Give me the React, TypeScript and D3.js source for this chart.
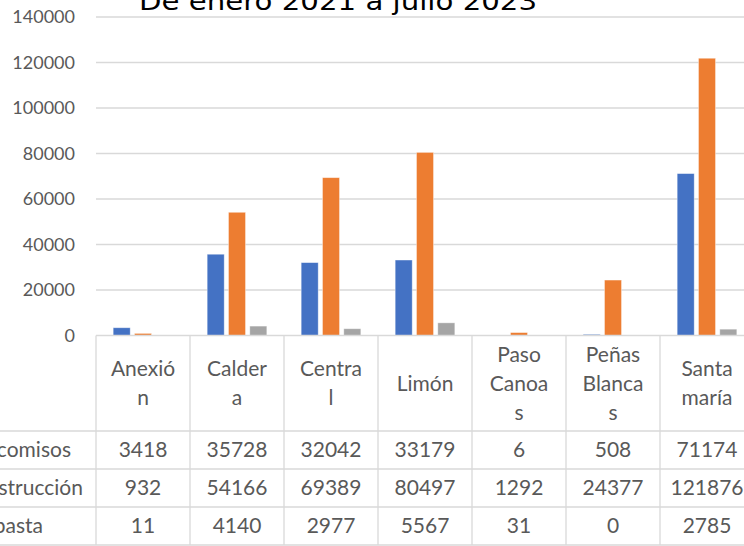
import React, { useEffect, useRef } from "react";
import * as d3 from "d3";

// datos
const categories = ["Anexión", "Caldera", "Central", "Limón", "Paso Canoas", "Peñas Blancas", "Santa maría"];
const categoryLines = [["Anexió", "n"], ["Calder", "a"], ["Centra", "l"], ["Limón"], ["Paso", "Canoa", "s"], ["Peñas", "Blanca", "s"], ["Santa", "maría"]];
const seriesNames = ["decomisos", "destrucción", "pasta"];
const decomisos = [3418, 35728, 32042, 33179, 6, 508, 71174];
const destruccion = [932, 54166, 69389, 80497, 1292, 24377, 121876];
const pasta = [11, 4140, 2977, 5567, 31, 0, 2785];
const yTicks = [0, 20000, 40000, 60000, 80000, 100000, 120000, 140000];
const title = "De enero 2021 a julio 2023";

const colors = ["#4472C4", "#ED7D31", "#A5A5A5"];

const App = () => {
    const svgRef = useRef<SVGSVGElement>(null);

    useEffect(() => {
        const width = 744;
        const height = 546;
        const series = [decomisos, destruccion, pasta];

        const svg = d3.select(svgRef.current);
        svg.selectAll("*").remove();

        const left = 96;
        const right = 754;
        const zeroY = 335.5;
        const headerBottom = 431;
        const rowH = 38;
        const grid = "#d9d9d9";
        const textColor = "#595959";
        const font = "Lato, 'Open Sans', sans-serif";

        const x = d3.scaleBand<string>().domain(categories).range([left, right]);
        const xs = d3
            .scaleBand<string>()
            .domain(seriesNames)
            .range([0, x.bandwidth()])
            .paddingInner(0.2)
            .paddingOuter(0.805);
        const y = d3.scaleLinear().domain([0, 140000]).range([zeroY, 17]);

        // líneas de cuadrícula
        svg.append("g")
            .selectAll("line")
            .data(yTicks.filter((t) => t > 0))
            .join("line")
            .attr("x1", left)
            .attr("x2", right)
            .attr("y1", (d) => y(d))
            .attr("y2", (d) => y(d))
            .attr("stroke", grid)
            .attr("stroke-width", 1.3);

        // etiquetas eje Y
        svg.append("g")
            .selectAll("text")
            .data(yTicks)
            .join("text")
            .attr("x", 75)
            .attr("y", (d) => y(d))
            .attr("dy", "0.35em")
            .attr("text-anchor", "end")
            .attr("fill", textColor)
            .style("font", `18px ${font}`)
            .text((d) => d);

        // barras
        series.forEach((vals, si) => {
            svg.append("g")
                .selectAll("rect")
                .data(vals)
                .join("rect")
                .attr("x", (d, i) => x(categories[i])! + xs(seriesNames[si])!)
                .attr("y", (d) => y(d))
                .attr("width", xs.bandwidth())
                .attr("height", (d) => zeroY - y(d))
                .attr("fill", colors[si])
                .attr("stroke", "#fff")
                .attr("stroke-opacity", 0.5)
                .attr("stroke-width", 0.8);
        });

        // tabla de datos
        const table = svg.append("g").attr("stroke", grid).attr("stroke-width", 1.3);
        table.append("line").attr("x1", left).attr("x2", right).attr("y1", zeroY).attr("y2", zeroY);
        d3.range(4).forEach((r) => {
            const yy = headerBottom + r * rowH;
            table.append("line").attr("x1", 0).attr("x2", right).attr("y1", yy).attr("y2", yy);
        });
        categories.concat([""]).forEach((c, i) => {
            const xx = left + i * x.bandwidth();
            table.append("line").attr("x1", xx).attr("x2", xx).attr("y1", zeroY).attr("y2", headerBottom + 3 * rowH);
        });

        const headerMid = (zeroY + headerBottom) / 2;
        const lineH = 29;
        categoryLines.forEach((lines, i) => {
            const cx = x(categories[i])! + x.bandwidth() / 2;
            const t = svg.append("text")
                .attr("text-anchor", "middle")
                .attr("fill", textColor)
                .style("font", `21px ${font}`);
            lines.forEach((ln, k) => {
                t.append("tspan")
                    .attr("x", cx)
                    .attr("y", headerMid + (k - (lines.length - 1) / 2) * lineH)
                    .attr("dy", "0.35em")
                    .text(ln);
            });
        });

        const labelEnds = [71, 83, 43];
        series.forEach((vals, si) => {
            const cy = headerBottom + si * rowH + rowH / 2;
            svg.append("text")
                .attr("x", labelEnds[si])
                .attr("y", cy)
                .attr("dy", "0.35em")
                .attr("text-anchor", "end")
                .attr("fill", textColor)
                .style("font", `21px ${font}`)
                .text(seriesNames[si]);
            svg.append("g")
                .selectAll("text")
                .data(vals)
                .join("text")
                .attr("x", (d, i) => x(categories[i])! + x.bandwidth() / 2)
                .attr("y", cy)
                .attr("dy", "0.35em")
                .attr("text-anchor", "middle")
                .attr("fill", textColor)
                .style("font", `21px ${font}`)
                .text((d) => d);
        });

        // título (cortado arriba)
        svg.append("text")
            .attr("x", 139)
            .attr("y", 9.5)
            .attr("textLength", 398)
            .attr("lengthAdjust", "spacingAndGlyphs")
            .attr("fill", "#000")
            .style("font", "24px 'DejaVu Sans', sans-serif")
            .text(title);

        svg.attr("width", width).attr("height", height);
    }, []);

    return (
        <svg
            ref={svgRef}
            style={{ position: "absolute", left: 0, top: 0, background: "#fff" }}
        ></svg>
    );
};

export default App;
